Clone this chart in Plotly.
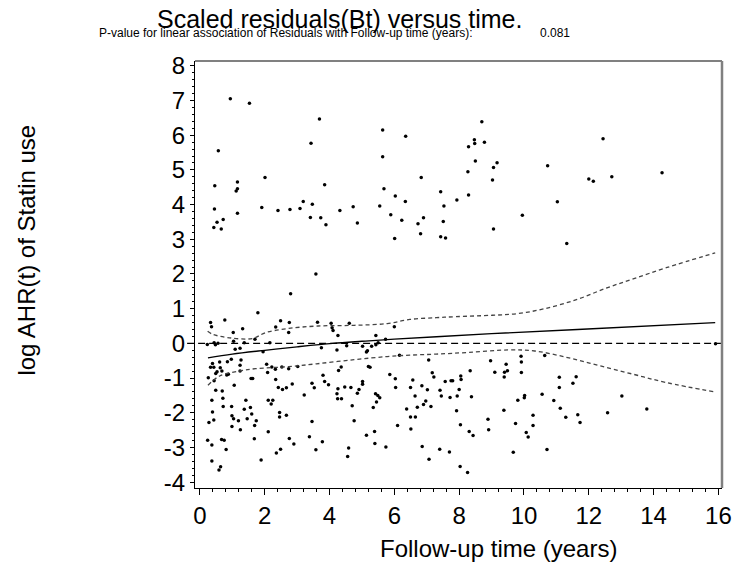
import plotly.graph_objects as go

# ---- data ----
time_upper = [0.94, 1.53, 0.57, 3.69, 3.43, 5.64, 5.64, 6.35, 0.46, 1.16, 1.16, 1.12, 2.01, 3.85,
              5.68, 6.03, 6.83, 7.43, 0.45, 1.16, 1.91, 2.41, 2.78, 3.09, 3.19, 3.47, 3.41, 3.73,
              3.89, 4.32, 4.73, 4.86, 5.55, 5.89, 6.23, 6.34, 6.73, 6.90, 7.53, 7.51, 0.53, 0.72,
              0.43, 0.66, 8.70, 8.47, 8.48, 8.78, 8.29, 12.44, 8.50, 9.17, 9.06, 10.73, 8.27, 9.03,
              12.00, 12.14, 12.71, 14.26, 7.93, 8.29, 11.03, 9.95, 9.06, 6.01, 6.81, 7.43, 7.58,
              11.32, 3.58, 2.80, 1.79]
resid_upper = [7.05, 6.92, 5.55, 6.47, 5.77, 6.15, 5.38, 5.97, 4.54, 4.65, 4.46, 4.39, 4.78, 4.57,
               4.46, 4.25, 4.78, 4.37, 3.87, 3.75, 3.92, 3.83, 3.86, 3.89, 4.09, 4.01, 3.63, 3.62,
               3.42, 3.83, 3.94, 3.47, 3.96, 3.71, 3.55, 4.09, 3.45, 3.62, 3.96, 3.51, 3.49, 3.57,
               3.34, 3.30, 6.39, 5.87, 5.76, 5.80, 5.67, 5.90, 5.26, 5.21, 5.07, 5.12, 4.95, 4.71,
               4.74, 4.67, 4.80, 4.92, 4.13, 4.28, 4.08, 3.69, 3.30, 3.02, 3.16, 3.07, 3.04,
               2.88, 2.00, 1.43, 0.88]

time_band = [0.33, 0.36, 0.77, 1.32, 1.03, 2.49, 2.76, 2.34, 2.74, 3.63, 4.05, 4.08, 4.11, 4.61,
             4.26, 5.43, 5.73, 0.23, 0.44, 0.48, 0.56, 1.04, 1.09, 1.24, 1.70, 2.16, 1.95, 3.75,
             4.23, 4.53, 5.02, 5.14, 5.17, 5.30, 5.43, 5.50, 1.37, 6.00, 6.16, 7.06,
             0.26, 0.33, 0.43, 0.39, 0.49, 0.53, 0.61, 0.63, 0.83, 0.88, 0.85, 0.97, 1.24, 1.24,
             1.27, 1.58, 1.63, 2.06, 2.09, 2.33, 2.74, 2.34, 3.02, 3.80, 3.85, 3.97, 4.28, 4.36,
             5.02, 5.02, 5.20, 5.25, 2.53, 2.22, 0.68, 0.44, 1.06]
resid_band = [0.60, 0.48, 0.67, 0.42, 0.31, 0.65, 0.60, 0.47, 0.31, 0.61, 0.58, 0.45, 0.37, 0.58,
              0.23, 0.23, 0.12, -0.03, 0.02, -0.04, 0.00, 0.06, -0.17, -0.14, 0.12, 0.02, -0.24, -0.13,
              -0.19, -0.07, -0.08, -0.25, -0.21, -0.08, -0.04, 0.02, 0.02, 0.48, -0.34, -0.48,
              -0.99, -0.69, -0.69, -0.58, -0.87, -0.82, -0.54, -0.70, -0.91, -0.89, -0.53, -0.46, -0.63, -0.80,
              -0.48, -1.01, -1.01, -0.60, -0.84, -0.75, -0.73, -1.04, -0.67, -0.92, -1.10, -1.19, -0.78, -0.68,
              -1.10, -1.18, -0.67, -0.69, -0.68, -0.68, -0.80, -1.08, -1.21]

time_lower = [2.42, 2.55, 2.67, 2.85, 3.22, 3.46, 3.53, 4.26, 4.23, 4.25, 4.37, 4.47, 4.66, 4.91,
              4.86, 5.42, 5.49, 5.55, 4.70, 5.35, 5.86, 6.03, 6.04, 6.50, 6.57, 6.64, 6.85, 7.02,
              7.17, 7.22, 7.41, 7.45, 7.57, 7.75, 7.80, 7.72, 7.94, 8.00, 8.05, 8.06, 8.34, 8.38,
              8.97, 9.10, 9.40, 9.49, 9.39, 9.45, 9.91, 9.92, 9.92, 10.64, 11.09, 11.61, 11.51, 11.09,
              10.02, 10.01, 10.56, 13.02, 15.91, 7.40,
              0.37, 0.71, 0.49, 0.69, 0.72, 0.39, 0.28, 0.43, 0.24, 0.37, 0.37, 0.64, 0.59, 0.67,
              0.75, 0.81, 0.98, 0.99, 1.04, 0.99, 1.19, 1.25, 1.37, 1.42, 1.46, 1.56, 1.60, 1.69,
              1.74, 1.68, 1.89, 2.11, 2.11, 2.25, 2.20, 2.46, 2.46, 2.67, 2.76, 2.90, 2.49, 2.36,
              3.46, 3.38, 3.58, 3.78, 4.76, 4.59, 4.56, 5.14, 5.45, 5.39, 5.40, 5.74, 6.10, 6.38,
              6.50, 6.65, 6.51, 6.71, 6.90, 6.97, 7.13, 6.86, 7.07, 7.70,
              7.92, 8.04, 8.31, 8.43, 8.03, 8.26, 8.89, 8.91, 9.38, 9.67, 9.74, 9.81, 10.07, 10.13,
              10.28, 10.28, 10.71, 10.92, 11.12, 11.29, 11.66, 11.73, 12.58, 13.79]
resid_lower = [-1.27, -1.33, -1.28, -1.17, -1.49, -1.15, -1.28, -1.31, -1.45, -1.60, -1.60, -1.26, -1.27, -1.33,
               -1.44, -1.45, -1.50, -1.57, -1.80, -1.85, -0.90, -1.02, -1.27, -1.27, -1.06, -1.52, -1.22, -1.34,
               -0.85, -0.97, -1.35, -1.52, -1.10, -1.08, -1.08, -1.56, -1.52, -1.33, -0.94, -1.04, -0.79, -1.54,
               -0.50, -0.83, -0.83, -0.79, -0.97, -0.60, -0.37, -0.54, -0.84, -0.35, -0.98, -0.96, -1.15, -1.27,
               -1.50, -1.57, -1.47, -1.52, -0.01, -3.05,
               -1.64, -1.58, -1.35, -1.37, -1.82, -1.98, -2.28, -2.21, -2.79, -2.93, -3.39, -3.56, -3.65, -2.77,
               -2.79, -3.06, -1.82, -2.09, -2.17, -2.40, -2.23, -2.49, -1.90, -1.64, -2.17, -1.85, -2.04, -2.37,
               -2.23, -2.75, -3.36, -2.55, -1.64, -1.64, -1.75, -1.99, -2.12, -2.07, -2.74, -2.90, -3.05, -3.16,
               -2.25, -2.69, -3.07, -2.84, -2.23, -3.02, -3.26, -2.65, -1.69, -2.54, -2.89, -2.99, -2.37, -1.89,
               -2.12, -2.12, -2.47, -1.84, -1.76, -1.66, -1.82, -2.97, -3.34, -3.13,
               -1.94, -2.35, -2.54, -2.66, -3.55, -3.72, -2.19, -2.49, -1.93, -3.14, -2.31, -1.64, -2.57, -2.70,
               -2.07, -2.37, -3.06, -1.65, -1.87, -2.13, -2.06, -2.28, -2.00, -1.89]

fit_time = [0.25, 1.0, 2.0, 3.0, 4.1, 5.0, 6.0, 7.3, 9.0, 11.65, 15.9]
fit_logahr = [-0.42, -0.31, -0.20, -0.10, 0.0, 0.06, 0.12, 0.19, 0.28, 0.40, 0.60]

upper_time = [0.24, 0.40, 0.91, 1.62, 2.03, 2.74, 3.65, 4.76, 5.78, 6.48, 7.29, 7.90, 9.02, 9.83,
              10.64, 11.65, 12.56, 13.37, 14.39, 15.9]
upper_ci = [0.35, 0.26, 0.16, 0.14, 0.31, 0.43, 0.50, 0.52, 0.57, 0.69, 0.74, 0.77, 0.81, 0.86,
            1.00, 1.27, 1.60, 1.86, 2.18, 2.61]

lower_time = [0.25, 0.61, 1.22, 1.72, 2.74, 3.60, 4.76, 5.78, 6.48, 7.29, 8.31, 9.52, 10.33, 11.35,
              12.36, 13.37, 14.39, 15.9]
lower_ci = [-1.21, -0.94, -0.80, -0.73, -0.67, -0.59, -0.47, -0.38, -0.34, -0.31, -0.26, -0.19, -0.22,
            -0.41, -0.65, -0.89, -1.13, -1.40]

x_ticks = [0, 2, 4, 6, 8, 10, 12, 14, 16]
y_ticks = [-4, -3, -2, -1, 0, 1, 2, 3, 4, 5, 6, 7, 8]

title_text = "Scaled residuals(Bt) versus time."
subtitle_text = "P-value for linear association of Residuals with Follow-up time (years):"
pvalue_text = "0.081"

FONT = "Arial, Liberation Sans, sans-serif"

times = time_upper + time_band + time_lower
resids = resid_upper + resid_band + resid_lower

fig = go.Figure()
fig.add_trace(go.Scatter(x=times, y=resids, mode="markers",
                         marker=dict(color="black", size=3.5, line=dict(width=0)),
                         hoverinfo="skip"))
fig.add_trace(go.Scatter(x=upper_time, y=upper_ci, mode="lines",
                         line=dict(color="#444444", width=1.3, dash="4px,3px", shape="spline")))
fig.add_trace(go.Scatter(x=lower_time, y=lower_ci, mode="lines",
                         line=dict(color="#444444", width=1.3, dash="4px,3px", shape="spline")))
fig.add_trace(go.Scatter(x=fit_time, y=fit_logahr, mode="lines",
                         line=dict(color="black", width=1.3, shape="spline")))

W, H = 744, 566
L, R, T, B = 195, 14, 61, 78
pw, ph = W - L - R, H - T - B


def px(xp):
    return (xp - L) / pw


def py(yp):
    return (H - B - yp) / ph


shapes = [
    dict(type="line", xref="paper", yref="y", x0=px(187), x1=1, y0=0, y1=0,
         line=dict(color="black", width=1.2, dash="7px,4px")),
    dict(type="line", xref="paper", yref="paper", x0=0, x1=1, y0=1, y1=1,
         line=dict(color="#808080", width=2)),
    dict(type="line", xref="paper", yref="paper", x0=1, x1=1, y0=0, y1=1,
         line=dict(color="#808080", width=2.5)),
]

annotations = [
    dict(text=title_text, xref="paper", yref="paper", x=px(342), y=py(19),
         xanchor="center", yanchor="middle", showarrow=False,
         font=dict(family=FONT, size=25, color="black")),
    dict(text=subtitle_text, xref="paper", yref="paper", x=px(96), y=py(33),
         xanchor="left", yanchor="middle", showarrow=False,
         font=dict(family=FONT, size=12, color="black")),
    dict(text=pvalue_text, xref="paper", yref="paper", x=px(543), y=py(33),
         xanchor="left", yanchor="middle", showarrow=False,
         font=dict(family=FONT, size=12, color="black")),
    dict(text="Follow-up time (years)", xref="paper", yref="paper", x=px(503), y=py(548),
         xanchor="center", yanchor="middle", showarrow=False,
         font=dict(family=FONT, size=24, color="black")),
    dict(text="log AHR(t) of Statin use", xref="paper", yref="paper", x=px(23), y=py(250),
         xanchor="center", yanchor="middle", showarrow=False, textangle=-90,
         font=dict(family=FONT, size=24, color="black")),
]

fig.update_layout(
    width=W, height=H,
    margin=dict(l=L, r=R, t=T, b=B, pad=0),
    paper_bgcolor="white", plot_bgcolor="white",
    showlegend=False,
    font=dict(family=FONT, color="black"),
    shapes=shapes,
    annotations=annotations,
    xaxis=dict(range=[-0.15, 16.11], tickmode="array", tickvals=x_ticks,
               ticktext=[str(v) for v in x_ticks],
               showline=True, linecolor="black", linewidth=1,
               ticks="outside", ticklen=6, tickcolor="black", tickwidth=1,
               tickfont=dict(family=FONT, size=24, color="black"),
               minor=dict(ticks="outside", ticklen=3, dtick=0.4, tick0=0,
                          tickcolor="black", tickwidth=1, showgrid=False),
               showgrid=False, zeroline=False),
    yaxis=dict(range=[-4.17, 8.14], tickmode="array", tickvals=y_ticks,
               ticktext=[str(v) for v in y_ticks],
               showline=True, linecolor="black", linewidth=1,
               ticks="outside", ticklen=4, tickcolor="black", tickwidth=1,
               tickfont=dict(family=FONT, size=24, color="black"),
               minor=dict(ticks="outside", ticklen=2, dtick=0.2, tick0=0,
                          tickcolor="black", tickwidth=1, showgrid=False),
               showgrid=False, zeroline=False),
)

fig.write_html("out.html")
